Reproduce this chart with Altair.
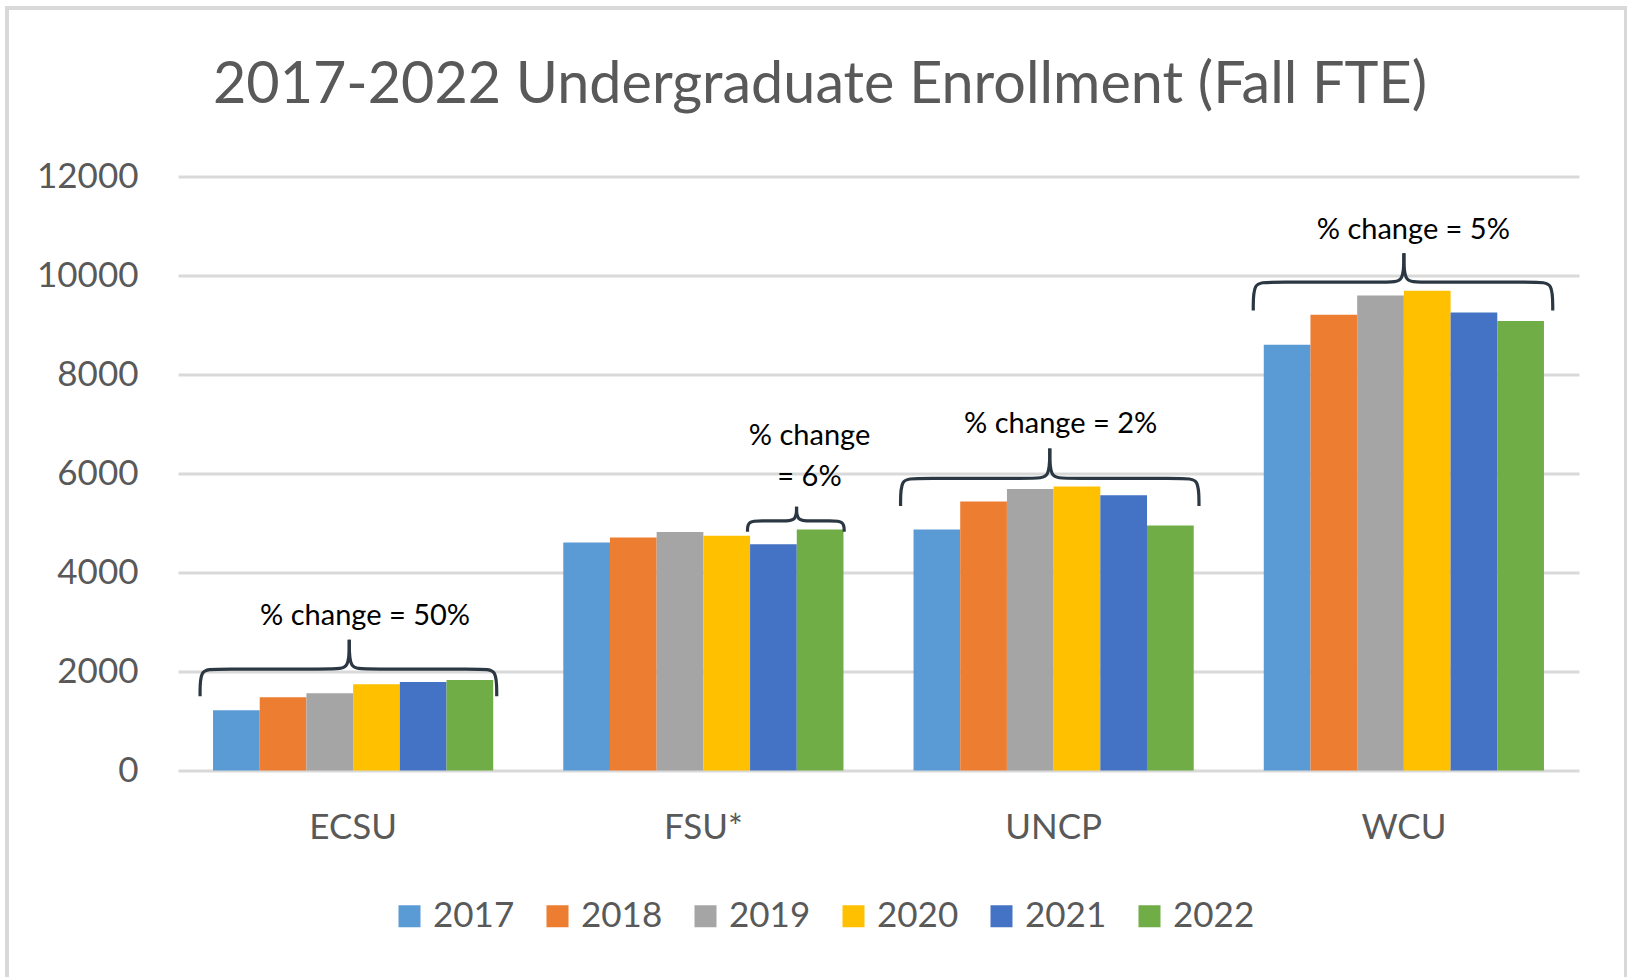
import altair as alt
import pandas as pd

# ---- data ----
universities = ["ECSU", "FSU*", "UNCP", "WCU"]
years = ["2017", "2018", "2019", "2020", "2021", "2022"]
enroll_2017 = [1216, 4605, 4867, 8603]
enroll_2018 = [1482, 4706, 5433, 9206]
enroll_2019 = [1563, 4820, 5689, 9597]
enroll_2020 = [1741, 4740, 5736, 9691]
enroll_2021 = [1788, 4570, 5562, 9254]
enroll_2022 = [1829, 4870, 4950, 9079]
colors = ["#5B9BD5", "#ED7D31", "#A5A5A5", "#FFC000", "#4472C4", "#70AD47"]

# ---- annotation (curly brace) spec, x in category units (0..4), y in data units ----
brace_left = [0.063, 1.626, 2.063, 3.070]
brace_right = [0.910, 1.902, 2.915, 3.925]
brace_center = [0.489, 1.766, 2.489, 3.500]
brace_level = [2050, 5042, 5901, 9865]
brace_end = [1498, 4825, 5343, 9294]
brace_peak = [2641, 5329, 6505, 10450]
corner = 0.04

note_text = ["% change = 50%", "% change", "= 6%", "% change = 2%", "% change = 5%"]
note_x = [0.534, 1.803, 1.803, 2.520, 3.527]
note_y = [3120, 6754, 5934, 6996, 10927]

title_text = "2017-2022 Undergraduate Enrollment (Fall FTE)"

series = [enroll_2017, enroll_2018, enroll_2019, enroll_2020, enroll_2021, enroll_2022]
rows = []
for yr, vals in zip(years, series):
    for u, v in zip(universities, vals):
        rows.append({"uni": u, "year": yr, "value": v})
df = pd.DataFrame(rows)

brows = []
for i in range(len(brace_left)):
    L, R, C = brace_left[i], brace_right[i], brace_center[i]
    H, E, P = brace_level[i], brace_end[i], brace_peak[i]
    left_pts = [(L, E), (L, H), (L + corner, H), (C - corner, H), (C, H), (C, P)]
    right_pts = [(R, E), (R, H), (R - corner, H), (C + corner, H), (C, H), (C, P)]
    for side, pts in (("l", left_pts), ("r", right_pts)):
        for k, (bx, by) in enumerate(pts):
            brows.append({"bid": f"{i}{side}", "o": k, "bx": bx, "by": by})
bdf = pd.DataFrame(brows)
ndf = pd.DataFrame({"t": note_text, "nx": note_x, "ny": note_y})

FONT = "Lato"
GREY = "#595959"
W, H_ = 1401, 594
yscale = alt.Scale(domain=[0, 12000], nice=False, zero=True)
yaxis = alt.Axis(values=[0, 2000, 4000, 6000, 8000, 10000, 12000], format="d",
                 labelFont=FONT, labelFontSize=35, labelColor=GREY, labelPadding=40,
                 ticks=False, domain=False, gridColor="#D9D9D9", gridWidth=3)

bars = alt.Chart(df).mark_bar().encode(
    x=alt.X("uni:N", sort=universities, title=None,
            scale=alt.Scale(paddingInner=0.2, paddingOuter=0.1),
            axis=alt.Axis(labelAngle=0, labelFont=FONT, labelFontSize=35, labelColor=GREY,
                          labelPadding=40, ticks=False, domain=False)),
    xOffset=alt.XOffset("year:N", sort=years, scale=alt.Scale(paddingInner=0, paddingOuter=0)),
    y=alt.Y("value:Q", scale=yscale, title=None, axis=yaxis),
    color=alt.Color("year:N", sort=years, scale=alt.Scale(domain=years, range=colors),
                    legend=alt.Legend(orient="none", legendX=214, legendY=722, direction="horizontal",
                                      title=None, symbolType="square", symbolSize=484,
                                      symbolStrokeWidth=0, labelFont=FONT, labelFontSize=35,
                                      labelColor=GREY, labelOffset=6, columnPadding=25,
                                      padding=0)),
)

xq = alt.Scale(domain=[0, 4], nice=False, zero=False)

braces = alt.Chart(bdf).mark_line(interpolate="basis", color="#2B3843", strokeWidth=3.2).encode(
    x=alt.X("bx:Q", scale=xq, axis=None),
    y=alt.Y("by:Q", scale=yscale, title=None, axis=yaxis),
    detail="bid:N",
    order="o:Q",
)

notes = alt.Chart(ndf).mark_text(font=FONT, fontSize=29, color="#000000", baseline="middle",
                                 align="center").encode(
    x=alt.X("nx:Q", scale=xq, axis=None),
    y=alt.Y("ny:Q", scale=yscale, title=None, axis=yaxis),
    text="t:N",
)

frame = alt.Chart(alt.Data(values=[{}])).mark_rect(fillOpacity=0, stroke="#D9D9D9", strokeWidth=4).encode(
    x=alt.value(-171), x2=alt.value(1448), y=alt.value(-168.5), y2=alt.value(830)
)

title = alt.Chart(alt.Data(values=[{"t": title_text}])).mark_text(
    font=FONT, fontSize=57.5, color=GREY, align="center", baseline="alphabetic"
).encode(x=alt.value(642), y=alt.value(-73.5), text="t:N")

chart = alt.layer(frame, bars, braces, notes, title).resolve_scale(x="independent").properties(
    width=W, height=H_,
    autosize="none",
    background="white",
    padding={"left": 178, "top": 176.5, "right": 48, "bottom": 206.5},
).configure_view(stroke=None)

chart.save("out.html", embed_options={"renderer": "svg", "actions": False})
